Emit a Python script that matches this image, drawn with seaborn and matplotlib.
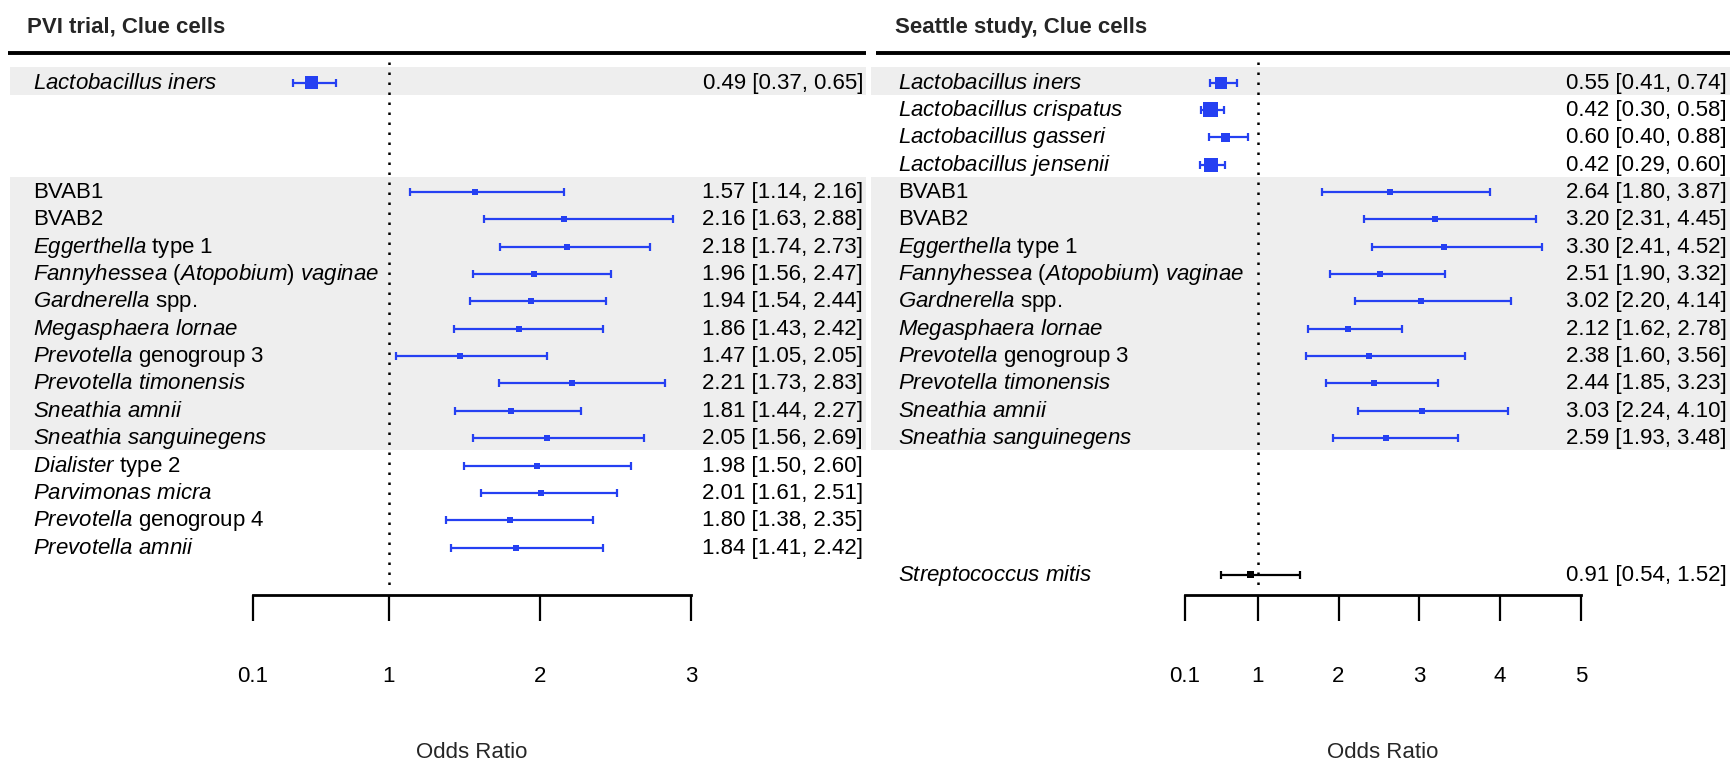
import numpy as np
import pandas as pd
import matplotlib
matplotlib.use("Agg")
import matplotlib.pyplot as plt
import seaborn as sns

# ================= DATEN =================
PVI_TITLE = "PVI trial, Clue cells"
PVI_LABELS = [
    r"$\mathit{Lactobacillus\ iners}$",
    "BVAB1",
    "BVAB2",
    r"$\mathit{Eggerthella}$ type 1",
    r"$\mathit{Fannyhessea\ (Atopobium)\ vaginae}$",
    r"$\mathit{Gardnerella}$ spp.",
    r"$\mathit{Megasphaera\ lornae}$",
    r"$\mathit{Prevotella}$ genogroup 3",
    r"$\mathit{Prevotella\ timonensis}$",
    r"$\mathit{Sneathia\ amnii}$",
    r"$\mathit{Sneathia\ sanguinegens}$",
    r"$\mathit{Dialister}$ type 2",
    r"$\mathit{Parvimonas\ micra}$",
    r"$\mathit{Prevotella}$ genogroup 4",
    r"$\mathit{Prevotella\ amnii}$",
]
PVI_OR = [0.49, 1.57, 2.16, 2.18, 1.96, 1.94, 1.86, 1.47, 2.21, 1.81, 2.05, 1.98, 2.01, 1.80, 1.84]
PVI_LO = [0.37, 1.14, 1.63, 1.74, 1.56, 1.54, 1.43, 1.05, 1.73, 1.44, 1.56, 1.50, 1.61, 1.38, 1.41]
PVI_HI = [0.65, 2.16, 2.88, 2.73, 2.47, 2.44, 2.42, 2.05, 2.83, 2.27, 2.69, 2.60, 2.51, 2.35, 2.42]
PVI_TICKS = [0.1, 1, 2, 3]

SEA_TITLE = "Seattle study, Clue cells"
SEA_LABELS = [
    r"$\mathit{Lactobacillus\ iners}$",
    r"$\mathit{Lactobacillus\ crispatus}$",
    r"$\mathit{Lactobacillus\ gasseri}$",
    r"$\mathit{Lactobacillus\ jensenii}$",
    "BVAB1",
    "BVAB2",
    r"$\mathit{Eggerthella}$ type 1",
    r"$\mathit{Fannyhessea\ (Atopobium)\ vaginae}$",
    r"$\mathit{Gardnerella}$ spp.",
    r"$\mathit{Megasphaera\ lornae}$",
    r"$\mathit{Prevotella}$ genogroup 3",
    r"$\mathit{Prevotella\ timonensis}$",
    r"$\mathit{Sneathia\ amnii}$",
    r"$\mathit{Sneathia\ sanguinegens}$",
    r"$\mathit{Streptococcus\ mitis}$",
]
SEA_OR = [0.55, 0.42, 0.60, 0.42, 2.64, 3.20, 3.30, 2.51, 3.02, 2.12, 2.38, 2.44, 3.03, 2.59, 0.91]
SEA_LO = [0.41, 0.30, 0.40, 0.29, 1.80, 2.31, 2.41, 1.90, 2.20, 1.62, 1.60, 1.85, 2.24, 1.93, 0.54]
SEA_HI = [0.74, 0.58, 0.88, 0.60, 3.87, 4.45, 4.52, 3.32, 4.14, 2.78, 3.56, 3.23, 4.10, 3.48, 1.52]
SEA_TICKS = [0.1, 1, 2, 3, 4, 5]

# ================= LAYOUT / STIL =================
# Zeilen-Slots (gemeinsames Raster beider Panels)
PVI_SLOTS = [0] + list(range(4, 18))
SEA_SLOTS = list(range(0, 14)) + [18]
BANDS = [(0, 0), (4, 13)]
# Kantenlaenge der Quadrate in Pixeln
PVI_BOX = [13.5] + [6] * 14
SEA_BOX = [12, 15, 9, 14] + [6] * 10 + [7]
PVI_COL = ["blue"] * 15
SEA_COL = ["blue"] * 14 + ["black"]
PALETTE = {"blue": "#2540f2", "black": "black"}

W, H = 1732, 763
ROW0, ROWH = 82.5, 27.36


def prow(pix):
    return (pix - ROW0) / ROWH


PANELS = [
    dict(title=PVI_TITLE, labels=PVI_LABELS, orr=PVI_OR, lo=PVI_LO, hi=PVI_HI, ticks=PVI_TICKS,
         slots=PVI_SLOTS, box=PVI_BOX, col=PVI_COL,
         ax_left=0, ax_w=868, one_px=388.6, unit_px=151.2,
         title_px=27, label_px=33, ci_px=863, line=(8, 866), band=(10, 866)),
    dict(title=SEA_TITLE, labels=SEA_LABELS, orr=SEA_OR, lo=SEA_LO, hi=SEA_HI, ticks=SEA_TICKS,
         slots=SEA_SLOTS, box=SEA_BOX, col=SEA_COL,
         ax_left=868, ax_w=864, one_px=1257.7, unit_px=80.8,
         title_px=895, label_px=898, ci_px=1727, line=(876, 1730), band=(871, 1730)),
]

sns.set_theme(style="white")
plt.rcParams["font.family"] = ["Liberation Sans", "DejaVu Sans"]
plt.rcParams["mathtext.fontset"] = "custom"
plt.rcParams["mathtext.rm"] = "Liberation Sans"
plt.rcParams["mathtext.it"] = "Liberation Sans:italic"
plt.rcParams["mathtext.bf"] = "Liberation Sans:bold"

fig = plt.figure(figsize=(W / 100, H / 100), dpi=100)
fig.patch.set_facecolor("white")

for p in PANELS:
    ax = fig.add_axes([p["ax_left"] / W, 0, p["ax_w"] / W, 1])
    px2x = lambda pix, p=p: 1 + (pix - p["one_px"]) / p["unit_px"]
    frac = lambda pix, p=p: (pix - p["ax_left"]) / p["ax_w"]

    df = pd.DataFrame({
        "label": p["labels"], "OR": p["orr"], "lo": p["lo"], "hi": p["hi"],
        "row": p["slots"], "farbe": p["col"],
        "area": [(b * 0.72) ** 2 for b in p["box"]],
    })

    # graue Baender
    for a, b in BANDS:
        ax.axhspan(a - 0.56, b + 0.44, xmin=frac(p["band"][0]), xmax=frac(p["band"][1]),
                   color="#eeeeee", lw=0, zorder=0)

    # Konfidenzintervalle
    for farbe, sub in df.groupby("farbe"):
        ax.errorbar(sub["OR"], sub["row"], xerr=[sub["OR"] - sub["lo"], sub["hi"] - sub["OR"]],
                    fmt="none", ecolor=PALETTE[farbe], elinewidth=1.6, capsize=2.6,
                    capthick=1.6, zorder=3)
    sns.scatterplot(data=df, x="OR", y="row", hue="farbe", palette=PALETTE,
                    size="area", sizes={v: v for v in df["area"].unique()},
                    marker="s", linewidth=0, legend=False, ax=ax, zorder=4)

    # Texte
    for _, r in df.iterrows():
        ax.text(px2x(p["label_px"]), r["row"] + 0.22, r["label"], ha="left", va="baseline",
                fontsize=16, color="black")
        ax.text(px2x(p["ci_px"]), r["row"] + 0.22, f"{r['OR']:.2f} [{r['lo']:.2f}, {r['hi']:.2f}]",
                ha="right", va="baseline", fontsize=16, color="black")

    ax.text(px2x(p["title_px"]), prow(33), p["title"], ha="left", va="baseline",
            fontsize=16, fontweight="bold")
    ax.plot([px2x(p["line"][0]), px2x(p["line"][1])], [prow(53), prow(53)],
            color="black", lw=2.8, solid_capstyle="butt")
    ax.plot([1, 1], [prow(62), prow(590)], color="black", lw=1.8, ls=(0, (1, 3)))

    ax.text((p["ticks"][0] + p["ticks"][-1]) / 2, prow(752), "Odds Ratio",
            ha="center", va="center", fontsize=16)

    # Achse
    ax.set_xlim(px2x(p["ax_left"]), px2x(p["ax_left"] + p["ax_w"]))
    ax.set_ylim(prow(H), prow(0))
    for s in ["top", "left", "right"]:
        ax.spines[s].set_visible(False)
    ax.spines["bottom"].set_position(("data", prow(595)))
    ax.spines["bottom"].set_bounds(p["ticks"][0], p["ticks"][-1])
    ax.spines["bottom"].set_linewidth(2.0)
    ax.spines["bottom"].set_color("black")
    ax.set_xticks(p["ticks"])
    ax.set_xticklabels([f"{t:g}" for t in p["ticks"]])
    ax.tick_params(axis="x", direction="out", length=19, width=1.6, pad=32,
                   labelsize=16, colors="black", bottom=True)
    ax.set_yticks([])
    ax.set_xlabel("")
    ax.set_ylabel("")
    ax.patch.set_alpha(0)

fig.savefig("out.png", dpi=100, facecolor="white")
